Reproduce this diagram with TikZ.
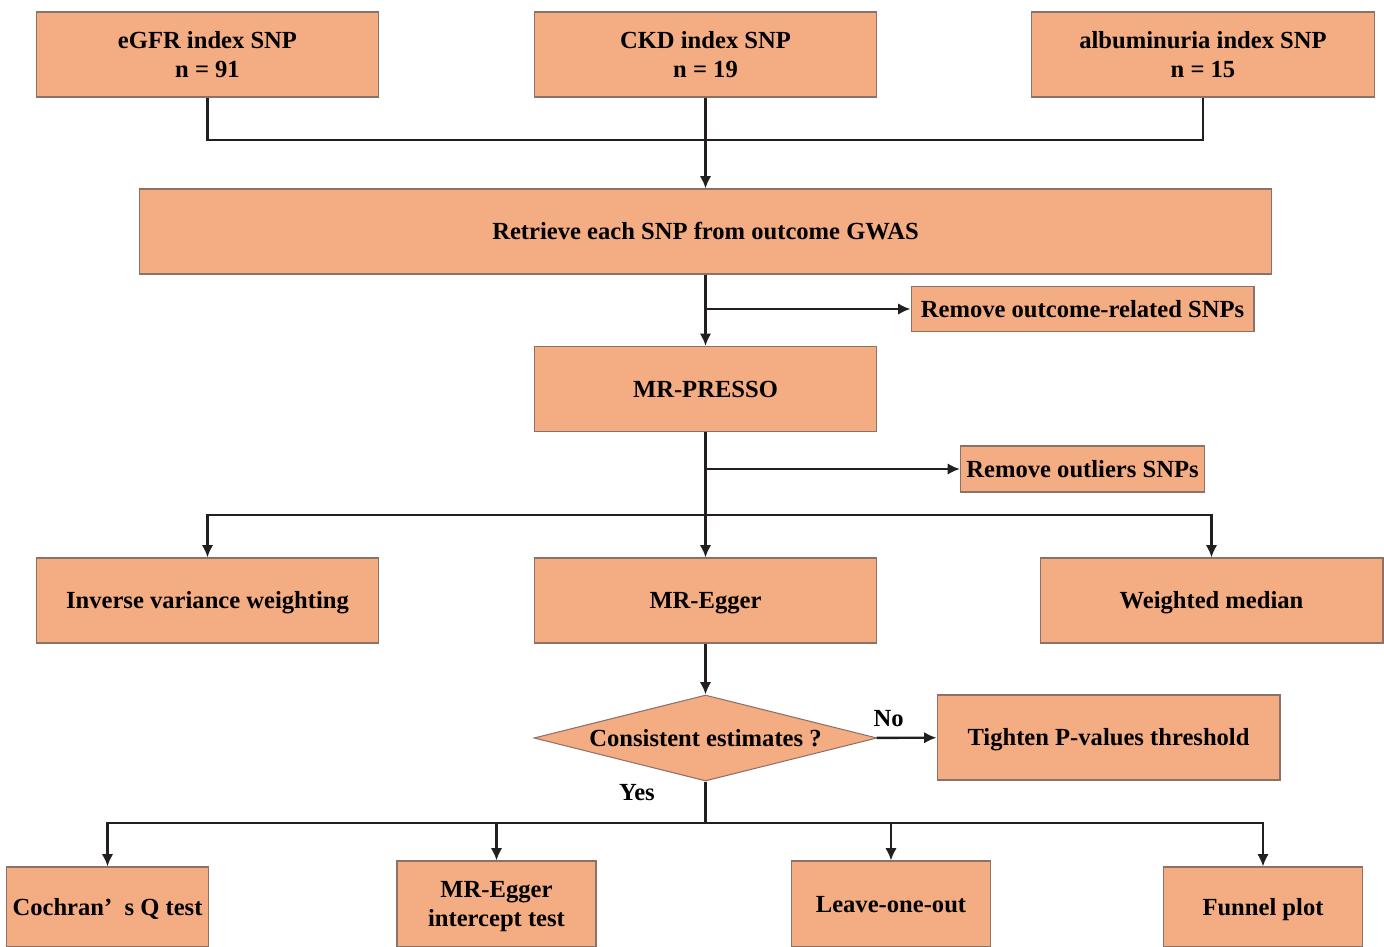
\documentclass[tikz,border=0pt]{standalone}
\usepackage{fontspec}
\setmainfont{Liberation Serif}
\usetikzlibrary{arrows.meta,positioning,shapes.geometric}
\definecolor{boxfill}{HTML}{F4AC82}
\definecolor{boxline}{HTML}{8C7266}
\definecolor{wire}{HTML}{231F20}

\begin{document}
\begin{tikzpicture}[x=0.02cm, y=-0.02cm, >={Latex[length=7pt,width=6.5pt]}]
    \tikzset{box/.style= {draw=boxline, fill=boxfill, rectangle
    , line width=0.6pt
    , minimum width=6.86cm
    , minimum height=1.7cm
    , align=center
    , text depth=0pt
    , font=\fontsize{14}{16.5}\selectfont\bfseries
      }
    , oneline/.style={text height=9.6pt, text depth=0pt}
    , decision/.style={box, oneline, diamond, aspect=4, inner sep=0pt, minimum height=1.72cm}
    , line/.style={draw=wire, line width=1.4pt}
    , tag/.style={font=\fontsize{14}{16.5}\selectfont\bfseries}
    }
\useasboundingbox (0,0) rectangle (1384,947);

\node [box] (egfr) at (207.5,54.5) {eGFR index SNP\\n = 91};
\node [box] (ckd) at (705.5,54.5) {CKD index SNP\\n = 19};
\node [box] (alb) at (1203,54.5) {albuminuria index SNP\\n = 15};
\node [box, oneline, minimum width=22.64cm] (retrieve) at (705.5,231.5) {Retrieve each SNP from outcome GWAS};
\node [box, oneline, minimum height=0.9cm] (rmout) at (1082.5,309) {Remove outcome-related SNPs};
\node [box, oneline] (presso) at (705.5,389) {MR-PRESSO};
\node [box, oneline, minimum width=4.82cm, minimum height=0.92cm] (rmoutl) at (1082.5,469) {Remove outliers SNPs};
\node [box, oneline] (ivw) at (207.5,600.5) {Inverse variance weighting};
\node [box, oneline] (egger) at (705.5,600.5) {MR-Egger};
\node [box, oneline] (wmed) at (1211.5,600.5) {Weighted median};
\node [decision] (check) at (705.5,738) {Consistent estimates ?};
\node [box, oneline] (tighten) at (1108.5,737.5) {Tighten P-values threshold};
\node [box, oneline, minimum width=3.98cm, minimum height=1.6cm] (cochran) at (107.5,907) {Cochran’~~s Q test};
\node [box, minimum width=3.98cm, minimum height=1.72cm] (icept) at (496.5,904) {MR-Egger\\intercept test};
\node [box, oneline, minimum width=3.98cm, minimum height=1.72cm] (loo) at (891,904) {Leave-one-out};
\node [box, oneline, minimum width=3.98cm, minimum height=1.6cm] (funnel) at (1263,907) {Funnel plot};

\coordinate (join) at (705.5,140);
\coordinate (cut1) at (705.5,309);
\coordinate (cut2) at (705.5,469);
\coordinate (cut3) at (705.5,515);
\coordinate (cut4) at (705.5,823);

 \path[line]
  (egfr) |- (join) -| (alb);
 \path[line, ->] (ckd) -- (retrieve);
 \path[line, ->] (retrieve) -- (presso);
 \path[line, ->] (cut1) -- (rmout.west);
 \path[line, ->] (presso) -- (egger);
 \path[line, ->] (cut2) -- (rmoutl.west);
 \path[line, ->] (cut3) -| (ivw);
 \path[line, ->] (cut3) -| (wmed);
 \path[line, ->] (egger) -- (check);
 \path[line, ->] (check) -- node[tag, above=2pt, pos=0.2] {No} (tighten);
 \path[line] (check) -- (cut4);
 \path[line, ->] (cut4) -| (cochran);
 \path[line, ->] (cut4) -| (icept);
 \path[line, ->] (cut4) -| (loo);
 \path[line, ->] (cut4) -| (funnel);

\node [tag] (yes) at (637,793) {Yes};
\end{tikzpicture}
\end{document}
